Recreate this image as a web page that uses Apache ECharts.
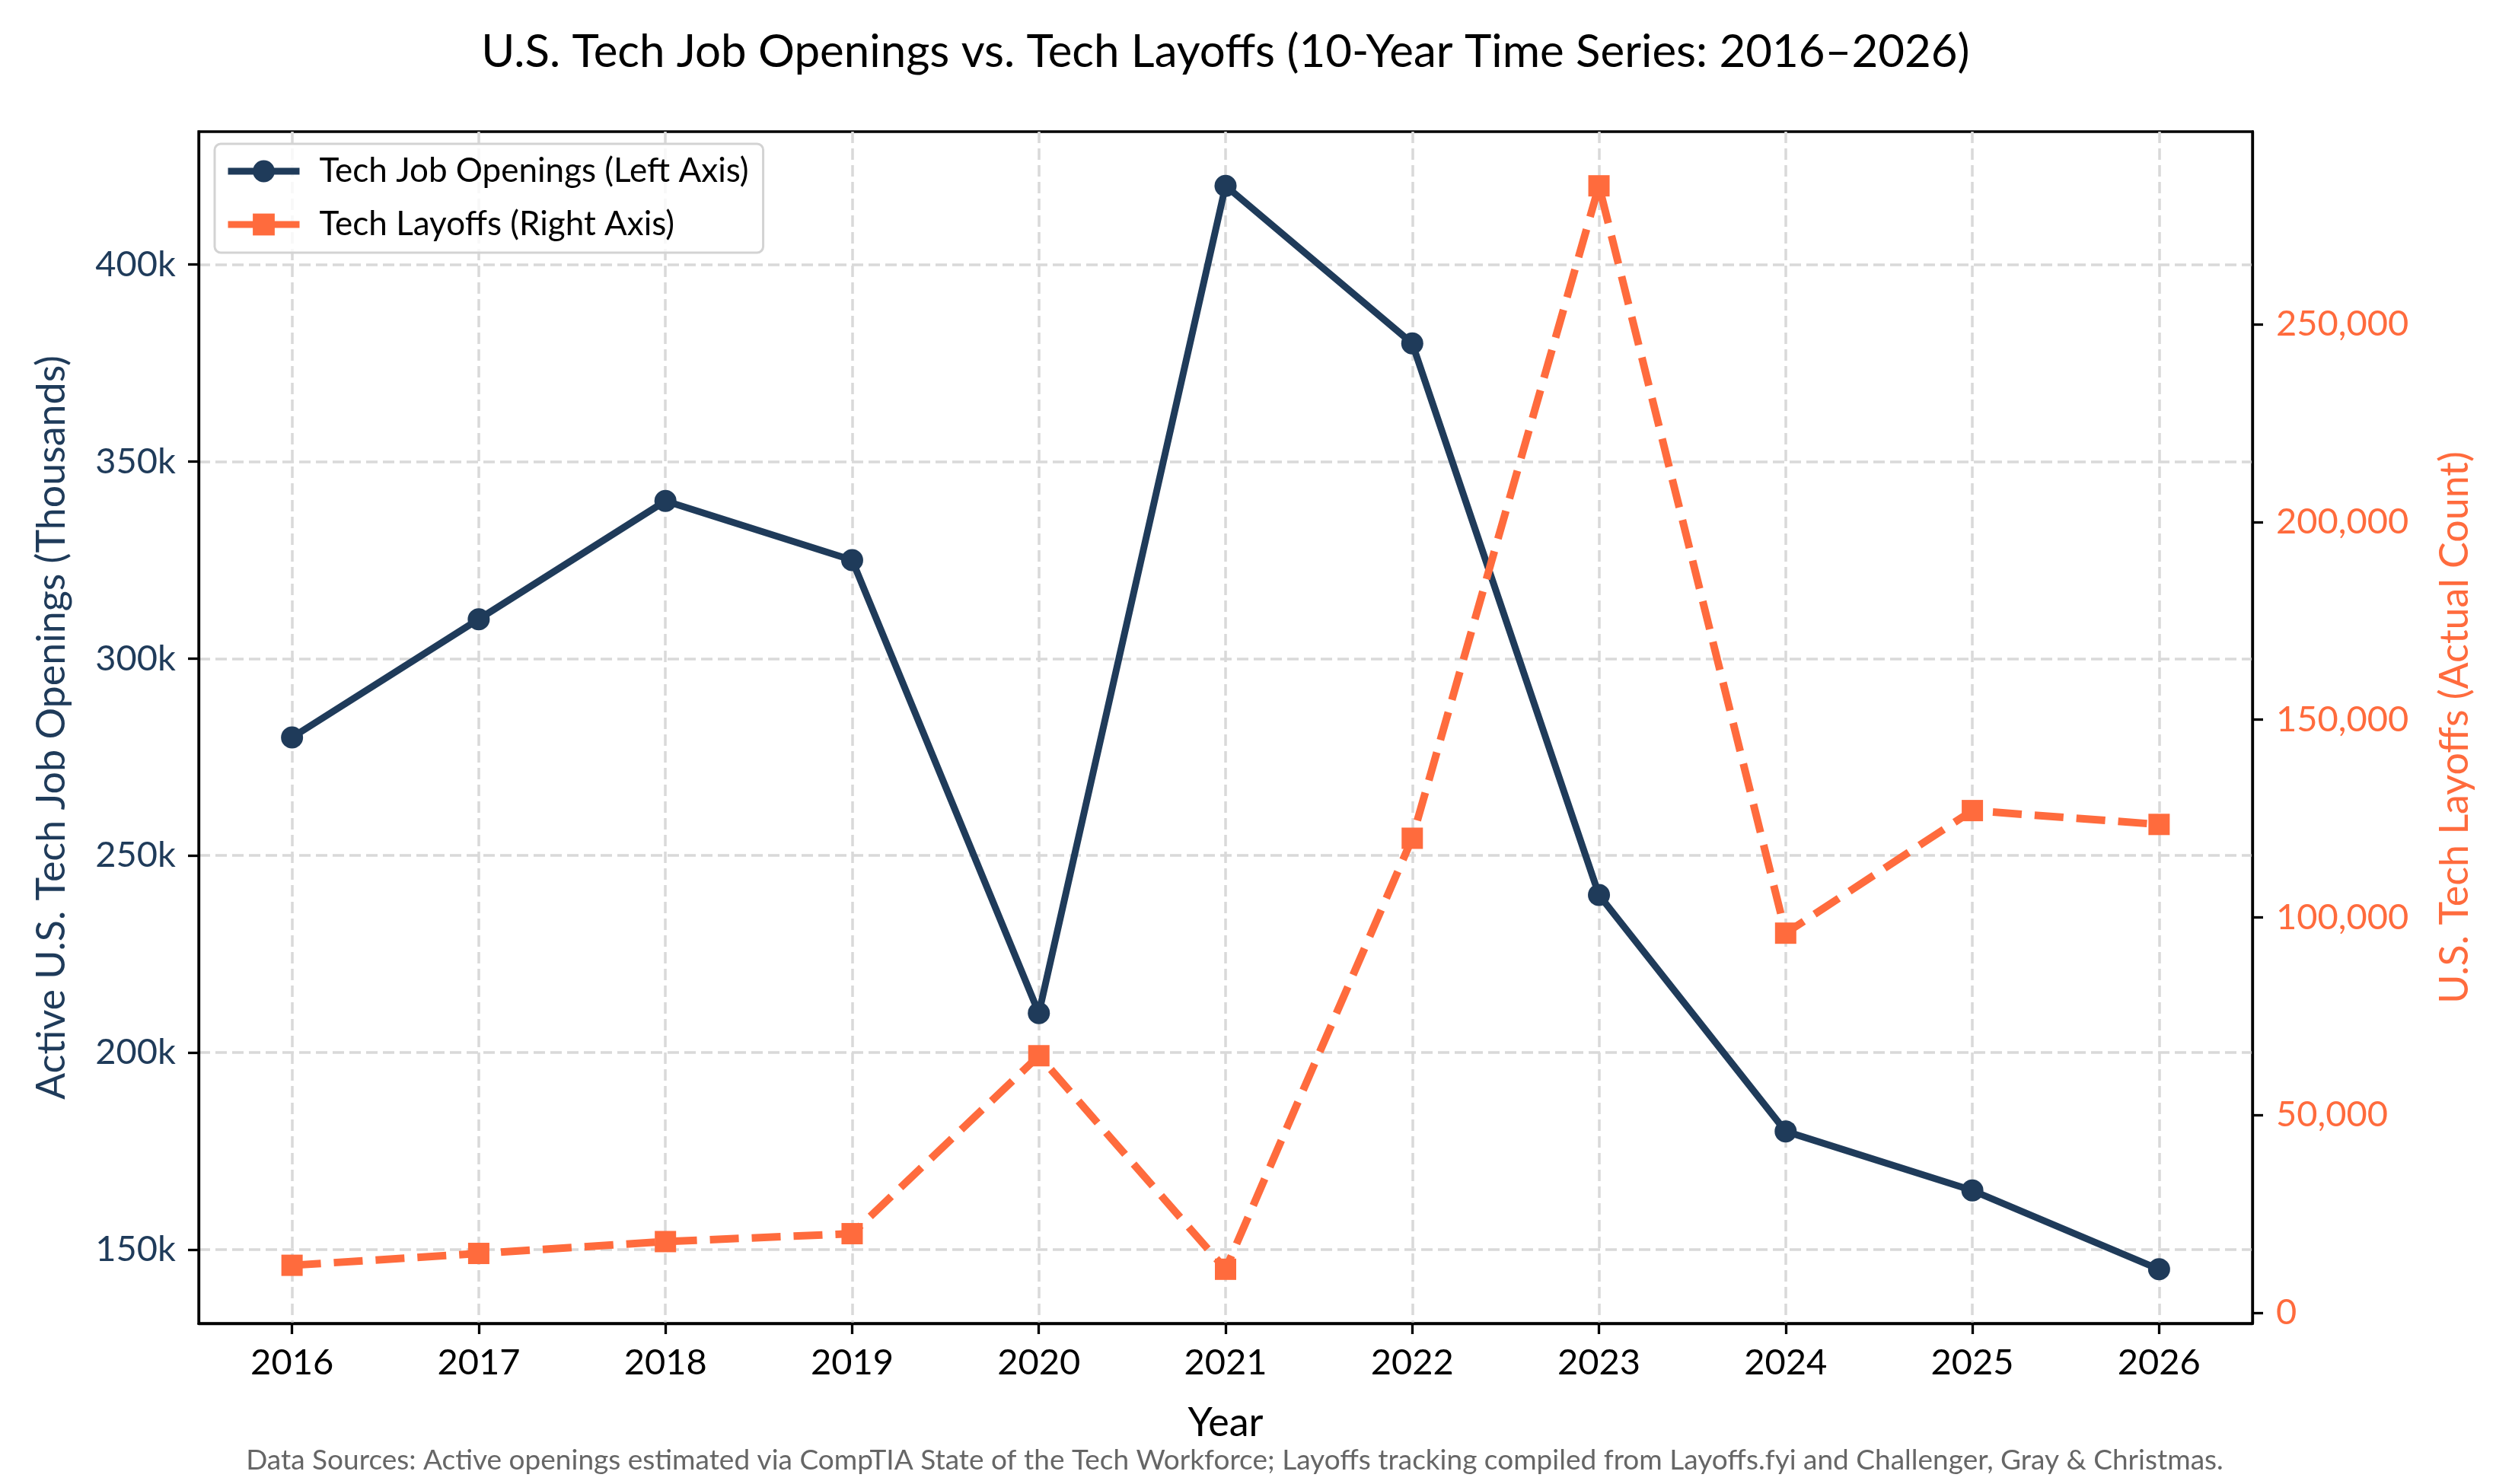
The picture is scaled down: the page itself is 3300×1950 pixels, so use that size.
<!DOCTYPE html>
<html>
<head>
<meta charset="utf-8">
<script src="https://cdn.jsdelivr.net/npm/echarts@6/dist/echarts.min.js"></script>
<style>
  html, body { margin: 0; padding: 0; background: #fff; }
  #chart { width: 3300px; height: 1950px; }
</style>
</head>
<body>
<div id="chart"></div>
<script>
// data
const years = [2016, 2017, 2018, 2019, 2020, 2021, 2022, 2023, 2024, 2025, 2026];
const openingsK = [280, 310, 340, 325, 210, 420, 380, 240, 180, 165, 145];
const layoffs = [12000, 15000, 18000, 20000, 65000, 11000, 120000, 285000, 96000, 127000, 123500];
const leftTicks = [150, 200, 250, 300, 350, 400];
const rightTicks = [0, 50000, 100000, 150000, 200000, 250000];

const NAVY = '#1f3b5a';
const ORANGE = '#ff6b3d';
const FONT = 'Lato';

// matplotlib style 5% padding
function pad(arr) {
  const lo = Math.min(...arr), hi = Math.max(...arr);
  const m = (hi - lo) * 0.05;
  return [lo - m, hi + m];
}
const [lMin, lMax] = pad(openingsK);
const [rMin, rMax] = pad(layoffs);

const gridDash = { color: '#d9d9d9', width: 3.5, type: [15, 7] };
const tickStyle = { show: true, inside: false, length: 14, lineStyle: { color: '#000', width: 3.3 } };
const spine = { show: true, onZero: false, lineStyle: { color: '#000', width: 3.3 } };

const chart = echarts.init(document.getElementById('chart'));
chart.setOption({
  backgroundColor: '#fff',
  animation: false,
  textStyle: { fontFamily: FONT },
  graphic: [
    {
      type: 'text', x: 1610, y: 69,
      style: { text: 'U.S. Tech Job Openings vs. Tech Layoffs (10-Year Time Series: 2016–2026)',
        font: '60px ' + FONT, fill: '#000', textAlign: 'center', textVerticalAlign: 'middle' }
    },
    {
      type: 'text', x: 1622, y: 1919,
      style: { text: 'Data Sources: Active openings estimated via CompTIA State of the Tech Workforce; Layoffs tracking compiled from Layoffs.fyi and Challenger, Gray & Christmas.',
        font: '37px ' + FONT, fill: '#666', textAlign: 'center', textVerticalAlign: 'middle' }
    }
  ],
  legend: {
    orient: 'vertical',
    left: 282, top: 189,
    itemWidth: 94, itemHeight: 36, itemGap: 26,
    padding: [14, 19, 15, 13],
    borderColor: '#d3d3d3', borderWidth: 3, borderRadius: 8,
    backgroundColor: 'rgba(255,255,255,0.8)',
    lineStyle: { width: 9, type: 'solid' },
    textStyle: { fontSize: 44, color: '#000', lineHeight: 44, padding: [0, 0, 0, 21], fontFamily: FONT }
  },
  grid: {
    left: 261, right: 341, top: 173, bottom: 211,
    show: true, borderColor: '#000', borderWidth: 3.3
  },
  xAxis: {
    type: 'value', min: 2015.5, max: 2026.5,
    name: 'Year', nameLocation: 'middle', nameGap: 105,
    nameTextStyle: { fontSize: 52, color: '#000', fontFamily: FONT },
    axisLine: spine,
    axisTick: Object.assign({ customValues: years }, tickStyle),
    axisLabel: { customValues: years, fontSize: 47, color: '#000', margin: 28, fontFamily: FONT,
      formatter: v => String(v) },
    splitLine: { show: true, lineStyle: gridDash }
  },
  yAxis: [
    {
      type: 'value', position: 'left', min: lMin, max: lMax,
      name: 'Active U.S. Tech Job Openings (Thousands)', nameLocation: 'middle', nameGap: 167, nameRotate: 90,
      nameTextStyle: { fontSize: 52, color: NAVY, fontFamily: FONT },
      axisLine: spine,
      axisTick: Object.assign({ customValues: leftTicks }, tickStyle),
      axisLabel: { customValues: leftTicks, fontSize: 47, color: NAVY, margin: 30, fontFamily: FONT,
        formatter: v => v + 'k' },
      splitLine: { show: true, lineStyle: gridDash }
    },
    {
      type: 'value', position: 'right', min: rMin, max: rMax,
      name: 'U.S. Tech Layoffs (Actual Count)', nameLocation: 'middle', nameGap: 240, nameRotate: 90,
      nameTextStyle: { fontSize: 52, color: ORANGE, fontFamily: FONT },
      axisLine: spine,
      axisTick: Object.assign({ customValues: rightTicks }, tickStyle),
      axisLabel: { customValues: rightTicks, fontSize: 47, color: ORANGE, margin: 31, fontFamily: FONT,
        formatter: v => v.toLocaleString('en-US') },
      splitLine: { show: false }
    }
  ],
  series: [
    {
      name: 'Tech Job Openings (Left Axis)',
      type: 'line', yAxisIndex: 0,
      data: years.map((y, i) => [y, openingsK[i]]),
      symbol: 'circle', symbolSize: 29,
      lineStyle: { color: NAVY, width: 9 },
      itemStyle: { color: NAVY }
    },
    {
      name: 'Tech Layoffs (Right Axis)',
      type: 'line', yAxisIndex: 1,
      data: years.map((y, i) => [y, layoffs[i]]),
      symbol: 'rect', symbolSize: 28,
      lineStyle: { color: ORANGE, width: 10, type: [38, 17] },
      itemStyle: { color: ORANGE }
    }
  ]
});
</script>
</body>
</html>
